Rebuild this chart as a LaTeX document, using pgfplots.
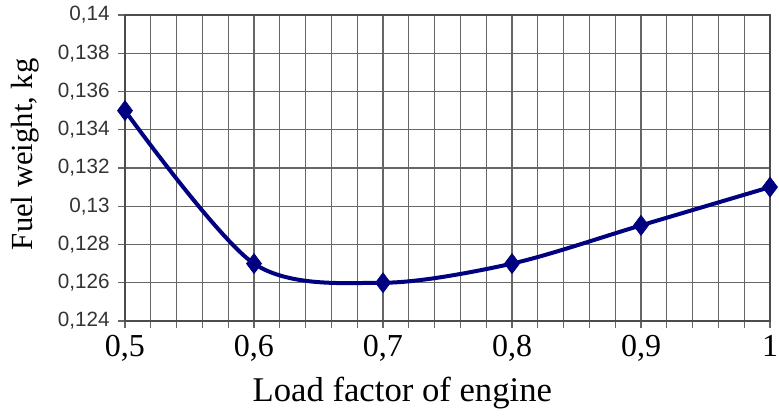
\documentclass[border=0pt]{standalone}
\usepackage{fontspec}
\setmainfont{Liberation Serif}
\newfontfamily\arialf{Liberation Sans}
\usepackage{pgfplots}
\pgfplotsset{compat=1.18}
\usetikzlibrary{calc}
\definecolor{navy}{HTML}{000080}
\begin{document}
\begin{tikzpicture}
\begin{axis}[
  scale only axis,
  width=483.75pt, height=229.5pt,
  xmin=0.5, xmax=1.0, ymin=0.124, ymax=0.14,
  xtick={0.5,0.6,0.7,0.8,0.9,1.0},
  minor xtick={0.52,0.54,0.56,0.58,0.62,0.64,0.66,0.68,0.72,0.74,0.76,0.78,0.82,0.84,0.86,0.88,0.92,0.94,0.96,0.98},
  ytick={0.124,0.126,0.128,0.13,0.132,0.134,0.136,0.138,0.14},
  tick pos=left,
  grid=both,
  major grid style={black!60, line width=1pt},
  minor grid style={black!60, line width=1pt},
  axis line style={black!70, line width=1pt},
  tick align=outside,
  major tick length=5pt, minor tick length=5pt,
  tick style={black!60, line width=1pt},
  /pgf/number format/assume math mode=true,
  /pgf/number format/use comma,
  /pgf/number format/fixed,
  /pgf/number format/precision=3,
  scaled y ticks=false,
  y tick label style={font=\arialf\fontsize{15.5}{16}\selectfont, text=black!80, xshift=-3pt},
  x tick label style={font=\fontsize{24}{26}\selectfont, yshift=-2pt},
  xlabel={Load factor of engine},
  ylabel={Fuel weight, kg},
  xlabel style={font=\fontsize{26}{27}\selectfont, at={(axis description cs:0.43,-0.235)}, anchor=center},
  ylabel style={font=\fontsize{23}{25}\selectfont, at={(axis description cs:-0.155,0.545)}, anchor=center},
  clip=false,
]
\addplot[navy, line width=3pt, smooth, mark=diamond*, mark size=7.5pt, mark options={fill=navy, line width=0.5pt}]
  coordinates {(0.5,0.135) (0.6,0.127) (0.7,0.126) (0.8,0.127) (0.9,0.129) (1.0,0.131)};
\end{axis}
\pgfresetboundingbox
\path ($(current axis.south west)+(-93.75pt,-71.25pt)$) rectangle ($(current axis.north east)+(6.75pt,11.25pt)$);
\end{tikzpicture}
\end{document}
